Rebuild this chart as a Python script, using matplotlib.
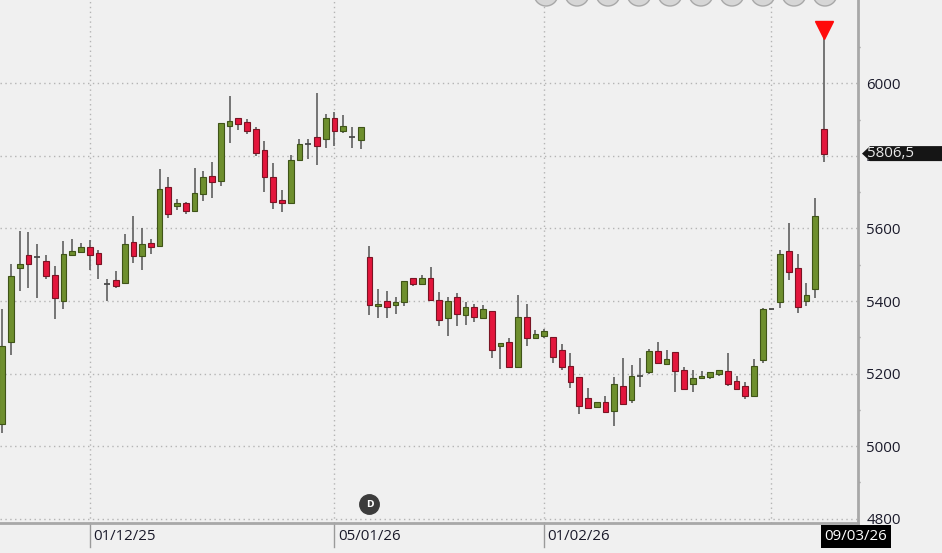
import matplotlib
matplotlib.use("Agg")
import matplotlib.pyplot as plt
import matplotlib.transforms as mtransforms
from matplotlib.patches import Ellipse, Polygon
import numpy as np

# velas diarias (apertura, maximo, minimo, cierre)
opens = [5062, 5286, 5490, 5528, 5521, 5511, 5473, 5400, 5528, 5535,
         5549, 5532, 5448, 5458, 5451, 5562, 5525, 5560, 5552, 5715,
         5662, 5669, 5648, 5694, 5745, 5731, 5882, 5904, 5893, 5873,
         5817, 5741, 5679, 5669, 5789, 5834, 5852, 5848, 5904, 5868,
         5851, 5845, 5521, 5386, 5400, 5389, 5396, 5464, 5448, 5463,
         5404, 5352, 5410, 5361, 5384, 5354, 5373, 5276, 5287, 5217,
         5356, 5297, 5304, 5301, 5266, 5222, 5191, 5133, 5107, 5121,
         5098, 5166, 5128, 5194, 5204, 5262, 5227, 5259, 5211, 5172,
         5187, 5191, 5200, 5207, 5180, 5166, 5139, 5237, 5377, 5398,
         5538, 5491, 5400, 5434, 5873]
highs = [5379, 5501, 5594, 5590, 5558, 5526, 5497, 5566, 5570, 5559,
         5568, 5542, 5462, 5483, 5586, 5634, 5600, 5572, 5765, 5742,
         5680, 5673, 5767, 5759, 5784, 5892, 5966, 5905, 5901, 5880,
         5842, 5781, 5707, 5802, 5848, 5848, 5974, 5917, 5922, 5914,
         5880, 5879, 5552, 5433, 5428, 5411, 5456, 5464, 5471, 5494,
         5425, 5411, 5422, 5398, 5393, 5388, 5373, 5284, 5297, 5416,
         5391, 5321, 5324, 5301, 5281, 5257, 5191, 5160, 5121, 5139,
         5191, 5243, 5223, 5243, 5269, 5287, 5266, 5259, 5218, 5211,
         5207, 5204, 5211, 5257, 5194, 5177, 5239, 5380, 5379, 5540,
         5616, 5531, 5450, 5684, 6124]
lows = [5037, 5251, 5427, 5436, 5409, 5460, 5350, 5377, 5524, 5533,
        5485, 5460, 5400, 5437, 5446, 5505, 5485, 5531, 5548, 5629,
        5650, 5639, 5646, 5677, 5685, 5716, 5837, 5871, 5861, 5799,
        5701, 5653, 5646, 5667, 5787, 5791, 5775, 5822, 5828, 5864,
        5821, 5819, 5361, 5352, 5352, 5364, 5387, 5442, 5446, 5402,
        5330, 5304, 5331, 5333, 5342, 5352, 5244, 5213, 5217, 5217,
        5275, 5294, 5299, 5230, 5209, 5161, 5088, 5103, 5107, 5092,
        5055, 5115, 5119, 5163, 5200, 5227, 5225, 5150, 5158, 5150,
        5185, 5186, 5193, 5165, 5154, 5130, 5136, 5228, 5375, 5382,
        5457, 5368, 5386, 5407, 5784]
closes = [5275, 5469, 5503, 5501, 5521, 5468, 5407, 5531, 5537, 5548,
          5528, 5501, 5448, 5442, 5556, 5525, 5556, 5549, 5708, 5641,
          5670, 5648, 5697, 5741, 5728, 5890, 5897, 5887, 5869, 5807,
          5741, 5672, 5669, 5790, 5832, 5834, 5827, 5906, 5868, 5883,
          5851, 5879, 5390, 5393, 5384, 5397, 5456, 5446, 5463, 5404,
          5349, 5400, 5363, 5384, 5355, 5379, 5266, 5284, 5217, 5356,
          5297, 5308, 5318, 5246, 5218, 5177, 5111, 5106, 5121, 5094,
          5170, 5117, 5194, 5194, 5262, 5229, 5241, 5207, 5158, 5187,
          5194, 5204, 5211, 5172, 5158, 5139, 5221, 5377, 5377, 5531,
          5480, 5384, 5418, 5635, 5806.5]

tick_pos = [10, 38, 62]
tick_labels = ["01/12/25", "05/01/26", "01/02/26"]
grid_pos = [10, 38, 62, 88]
last_date = "09/03/26"
last_price = 5806.5
price_label = "5806,5"
d_idx = 42
y_ticks = [4800, 5000, 5200, 5400, 5600, 5800, 6000]

bg = "#f0f0f0"
green = "#6e8f2e"
green_edge = "#3f5418"
red = "#e3163c"
red_edge = "#7a1424"
wick = "#6a6a6a"
txt = "#1a1a2a"
fuente = ["Open Sans", "DejaVu Sans"]
tam = 10.8

o = np.array(opens, dtype=float)
h = np.array(highs, dtype=float)
l = np.array(lows, dtype=float)
c = np.array(closes, dtype=float)
x = np.arange(len(o))

fig = plt.figure(figsize=(9.42, 5.53), dpi=100, facecolor=bg)
ax = fig.add_axes([0, 1 - 523 / 553, 858 / 942, 523 / 553])
ax.set_facecolor(bg)

# rejilla punteada
ax.set_yticks(y_ticks)
ax.set_yticks(np.arange(4900, 6201, 200), minor=True)
ax.set_xticks(grid_pos)
ax.set_xticklabels([])
ax.grid(True, which="major", color="#b4b4b4", linestyle=(0, (1, 2.5)), linewidth=1)

# velas
ax.vlines(x, l, h, color=wick, linewidth=1.3, zorder=2)
sube = c > o + 1
baja = c < o - 1
doji = ~(sube | baja)
ancho = 0.66
ax.bar(x[sube], (c - o)[sube], bottom=o[sube], width=ancho, color=green,
       edgecolor=green_edge, linewidth=0.8, zorder=3)
ax.bar(x[baja], (c - o)[baja], bottom=o[baja], width=ancho, color=red,
       edgecolor=red_edge, linewidth=0.8, zorder=3)
ax.hlines(o[doji], x[doji] - ancho / 2, x[doji] + ancho / 2, color="#4a4a4a",
          linewidth=1.3, zorder=3)

# triangulo rojo sobre la ultima vela
ax.plot(x[-1], 6148, marker="v", markersize=13, color="#ff0a0a", zorder=4)

ax.set_xlim(-0.26, 97.9)
ax.set_ylim(4788, 6230)

# ejes
for s in ["left", "top"]:
    ax.spines[s].set_visible(False)
for s in ["right", "bottom"]:
    ax.spines[s].set_color("#a8a8a8")
    ax.spines[s].set_linewidth(2)
ax.yaxis.tick_right()
ax.tick_params(axis="y", which="major", length=0, pad=6, labelsize=tam,
               labelcolor=txt)
ax.tick_params(axis="y", which="minor", length=1.5, width=1, color="#909090")
ax.tick_params(axis="x", length=0)
for lab in ax.get_yticklabels():
    lab.set_family(fuente)

# etiquetas de fecha a la derecha de cada marca
trans = mtransforms.blended_transform_factory(ax.transData, ax.transAxes)
for p, t in zip(tick_pos, tick_labels):
    ax.axvline(p, ymin=-0.045, ymax=0, color="#9a9a9a", linewidth=1, clip_on=False)
    ax.text(p + 0.4, -0.012, t, transform=trans, ha="left", va="top",
            fontsize=tam, color=txt, family=fuente)

# ultima fecha en recuadro negro
ax.text(x[-1] + 0.05, -0.011, last_date, transform=trans, ha="left", va="top",
        fontsize=tam, color="white", family=fuente,
        bbox=dict(boxstyle="square,pad=0.25", facecolor="#000000", edgecolor="none"))

# precio actual con flecha
yp = ax.transData.transform((0, last_price))[1]
W, H = fig.bbox.width, fig.bbox.height
x0 = ax.get_position().x1 * W + 4
pts = [(x0, yp), (x0 + 8, yp + 7.5), (W, yp + 7.5), (W, yp - 7.5), (x0 + 8, yp - 7.5)]
fig.add_artist(Polygon([(a / W, b / H) for a, b in pts], closed=True,
                       transform=fig.transFigure, facecolor="#151515",
                       edgecolor="none", zorder=5))
fig.text((x0 + 5) / W, yp / H, price_label, ha="left", va="center",
         fontsize=tam, color="#e8e8e8", family=fuente, zorder=6)

# marca "D"
ax.plot(d_idx, 4840, marker="o", markersize=14, color="#3c3c3c", zorder=4,
        clip_on=False)
ax.text(d_idx, 4840, "D", ha="center", va="center", fontsize=6.5,
        color="white", fontweight="bold", zorder=5)

# botones cortados arriba
for k in range(10):
    cx = (546 + k * 31) / W
    fig.add_artist(Ellipse((cx, 1 + 6 / H), 24 / W, 24 / H,
                           transform=fig.transFigure, facecolor="#d6d6d6",
                           edgecolor="#a8a8a8", linewidth=1, zorder=6))

fig.savefig("out.png", dpi=100, facecolor=bg)
